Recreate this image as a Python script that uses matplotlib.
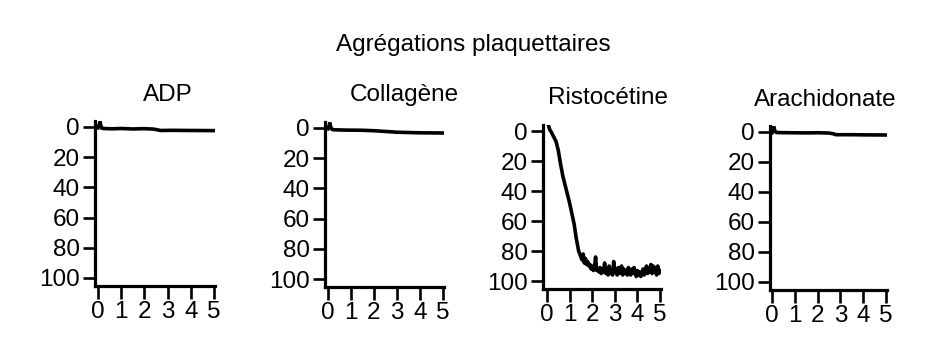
import matplotlib
matplotlib.use("Agg")
import matplotlib.pyplot as plt

plt.rcParams['font.family'] = ['Liberation Sans', 'DejaVu Sans']

title = "Agrégations plaquettaires"
panel_titles = ["ADP", "Collagène", "Ristocétine", "Arachidonate"]
x_ticks = [0, 1, 2, 3, 4, 5]
y_ticks = [0, 20, 40, 60, 80, 100]

adp_t = [0.0, 0.05, 0.09, 0.12, 0.16, 0.25, 0.6, 1.0, 1.5, 2.0, 2.4, 2.6, 2.7, 3.2, 4.0, 5.0]
adp_v = [0.5, -1.5, -3.5, -1.0, 0.8, 1.0, 1.2, 1.0, 1.3, 1.1, 1.4, 2.0, 2.3, 2.2, 2.3, 2.4]

col_t = [0.0, 0.05, 0.08, 0.12, 0.18, 0.3, 0.8, 1.5, 2.0, 2.5, 3.0, 3.5, 4.0, 5.0]
col_v = [0.5, -1.5, -3.5, -0.5, 1.0, 1.2, 1.4, 1.5, 1.8, 2.3, 2.8, 3.0, 3.2, 3.3]

ris_t = [0.08, 0.12, 0.2, 0.3, 0.4, 0.5, 0.6, 0.7, 0.8, 0.9, 1.0, 1.1, 1.2, 1.3, 1.4, 1.5,
         1.55, 1.6, 1.65, 1.7, 1.75, 1.8, 1.85, 1.9, 1.95, 2.0, 2.05, 2.1, 2.15, 2.2, 2.25,
         2.3, 2.35, 2.4, 2.45, 2.5, 2.55, 2.6, 2.65, 2.7, 2.75, 2.8, 2.85, 2.9, 2.95, 3.0,
         3.05, 3.1, 3.15, 3.2, 3.25, 3.3, 3.35, 3.4, 3.45, 3.5, 3.55, 3.6, 3.65, 3.7, 3.75,
         3.8, 3.85, 3.9, 3.95, 4.0, 4.05, 4.1, 4.15, 4.2, 4.25, 4.3, 4.35, 4.4, 4.45, 4.5,
         4.55, 4.6, 4.65, 4.7, 4.75, 4.8, 4.85, 4.9, 4.95, 5.0]
ris_v = [-3, -1, 1, 4, 7, 13, 22, 30, 36, 42, 48, 55, 62, 72, 80, 84,
         86, 82, 88, 85, 89, 87, 90, 89, 92, 90, 93, 91, 84, 93, 92,
         94, 91, 95, 92, 94, 88, 95, 92, 96, 90, 95, 93, 96, 87, 94,
         92, 96, 91, 95, 93, 90, 96, 92, 95, 93, 96, 91, 94, 96, 92,
         95, 91, 94, 97, 93, 96, 94, 97, 95, 92, 96, 94, 90, 95, 91,
         94, 89, 95, 90, 94, 91, 96, 90, 95, 93]

ara_t = [0.0, 0.04, 0.08, 0.12, 0.18, 0.3, 0.8, 1.5, 2.0, 2.5, 2.7, 2.8, 3.5, 4.0, 5.0]
ara_v = [0.5, -2.0, -3.5, -1.0, 0.3, 0.4, 0.5, 0.6, 0.5, 0.7, 1.2, 1.8, 1.8, 1.9, 2.0]

series = [(adp_t, adp_v), (col_t, col_v), (ris_t, ris_v), (ara_t, ara_v)]

# layout in pixels: (spine x, x=0 px, x=5 px, y=0 px, y=100 px)
layout = [(95, 98, 214, 127, 278),
          (325, 328, 443, 128, 279),
          (543, 547, 660, 131, 281),
          (770, 772, 886, 132, 282)]
title_pos = [(168, 95), (404, 95), (608, 98), (825, 100)]

W, H = 934, 344
fig = plt.figure(figsize=(W / 100, H / 100), dpi=100)
fig.text(473 / W, 1 - 45 / H, title, ha='center', va='center', fontsize=17.5)

XMAX, YMIN, YMAX = 5.05, -4, 105
for (t, v), (sx, x0, x5, y0, y100), name, (tx, ty) in zip(series, layout, panel_titles, title_pos):
    ppx = (x5 - x0) / 5
    ppy = (y100 - y0) / 100
    xmin = (sx - x0) / ppx
    left = sx
    right = x0 + XMAX * ppx
    top = y0 + YMIN * ppy
    bottom = y0 + YMAX * ppy
    ax = fig.add_axes([left / W, 1 - bottom / H, (right - left) / W, (bottom - top) / H])
    ax.plot(t, v, color='black', lw=2.6, solid_joinstyle='round')
    ax.set_xlim(xmin, XMAX)
    ax.set_ylim(YMAX, YMIN)
    ax.set_xticks(x_ticks)
    ax.set_yticks(y_ticks)
    ax.set_xticklabels([str(x) for x in x_ticks])
    ax.set_yticklabels([str(y) for y in y_ticks])
    for s in ['top', 'right']:
        ax.spines[s].set_visible(False)
    for s in ['left', 'bottom']:
        ax.spines[s].set_linewidth(2.3)
    ax.tick_params(direction='out', length=9, width=1.9, labelsize=17.5, pad=2, colors='black')
    fig.text(tx / W, 1 - ty / H, name, ha='center', va='center', fontsize=17.5)

fig.savefig('out.png', dpi=100, facecolor='white')
